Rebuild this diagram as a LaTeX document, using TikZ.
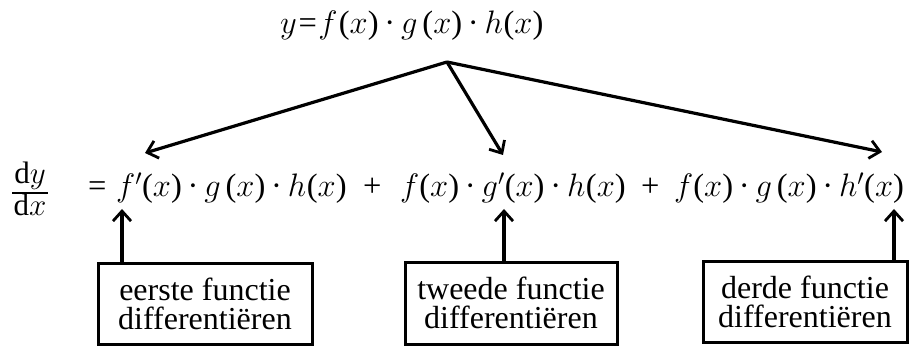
\RequirePackage{fix-cm}
\documentclass[tikz,border=0pt]{standalone}
\usepackage{fontspec}
\setmainfont{Liberation Serif}
\usetikzlibrary{arrows.meta}
\newcommand{\myF}{$f$}
\newcommand{\myG}{$g$\hspace{0.15em}}
\newcommand{\myH}{$h$\hspace{0.02em}}
\newcommand{\myX}{($x$)}
\newcommand{\myD}{\hspace{0.18em}\textperiodcentered\hspace{0.18em}}
\newcommand{\myP}{$'$}
\begin{document}
\begin{tikzpicture}[x=1pt,y=-1pt,
  eq/.style={inner sep=0pt, font=\fontsize{32.5}{34}\selectfont},
  lbl/.style={draw, line width=3pt, align=center, inner sep=0pt,
    font=\fontsize{32}{29.5}\selectfont},
  arr/.style={line width=3.2pt, -{Straight Barb[length=10pt,width=18pt,line width=2.8pt]}}]
\useasboundingbox (0,0) rectangle (912,347);
% top equation
\node[eq, anchor=base west] (top) at (280,34) {$y$\hspace{0.05em}=\hspace{0.05em}\myF\hspace{0.04em}\myX\myD\myG\myX\myD\myH\myX};
\coordinate (apex) at (447,62);
% derivative line
\node[eq, anchor=base, font=\fontsize{31}{31}\selectfont] (dnum) at (30,184) {d$y$};
\node[eq, anchor=base, font=\fontsize{31}{31}\selectfont] (dden) at (30,216) {d$x$};
\draw[line width=1.8pt] (12,193) -- (48,193);
\node[eq, anchor=base west] (eqs) at (88,197) {=};
\node[eq, anchor=base west] (term1) at (116,197) {\myF\myP\myX\myD\myG\myX\myD\myH\myX};
\node[eq, anchor=base west] (plus1) at (363,197) {+};
\node[eq, anchor=base west] (term2) at (400,197) {\myF\myX\myD$g$\myP\myX\myD\myH\myX};
\node[eq, anchor=base west] (plus2) at (641,197) {+};
\node[eq, anchor=base west] (term3) at (674,197) {\myF\myX\myD\myG\myX\myD$h$\myP\myX};
\coordinate (t1) at (145,153);
\coordinate (t2) at (503,155);
\coordinate (t3) at (882,152);
\coordinate (u1) at (122,209);
\coordinate (u2) at (504,209);
\coordinate (u3) at (894,209);
\draw[arr] (apex) -- (t1);
\draw[arr] (apex) -- (t2);
\draw[arr] (apex) -- (t3);
% boxes
\node[lbl, minimum width=214pt, minimum height=81pt] (b1) at (205,304) {eerste functie\\differentiëren};
\node[lbl, minimum width=212pt, minimum height=82pt] (b2) at (511,303) {tweede functie\\differentiëren};
\node[lbl, minimum width=204pt, minimum height=81pt] (b3) at (805,302) {derde functie\\differentiëren};
\draw[arr] (b1.north -| u1) -- (u1);
\draw[arr] (b2.north -| u2) -- (u2);
\draw[arr] (b3.north -| u3) -- (u3);
\end{tikzpicture}
\end{document}
